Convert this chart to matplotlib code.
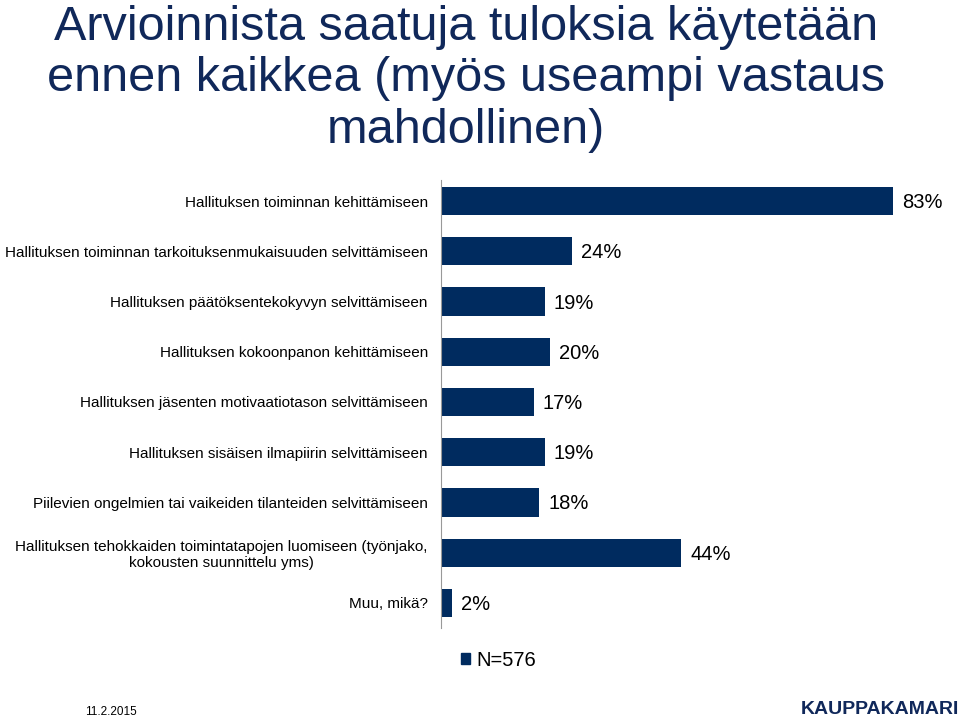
import matplotlib

matplotlib.use("Agg")
import matplotlib.pyplot as plt  # noqa: E402
from matplotlib.patches import Patch  # noqa: E402

plt.rcParams["font.family"] = ["Liberation Sans", "DejaVu Sans"]

categories = [
    "Hallituksen toiminnan kehittämiseen",
    "Hallituksen toiminnan tarkoituksenmukaisuuden selvittämiseen",
    "Hallituksen päätöksentekokyvyn selvittämiseen",
    "Hallituksen kokoonpanon kehittämiseen",
    "Hallituksen jäsenten motivaatiotason selvittämiseen",
    "Hallituksen sisäisen ilmapiirin selvittämiseen",
    "Piilevien ongelmien tai vaikeiden tilanteiden selvittämiseen",
    "Hallituksen tehokkaiden toimintatapojen luomiseen (työnjako,\nkokousten suunnittelu yms)",
    "Muu, mikä?",
]
values = [83, 24, 19, 20, 17, 19, 18, 44, 2]
series_name = "N=576"

NAVY = "#002b5f"
W, H = 960, 718

fig = plt.figure(figsize=(W / 100, H / 100), dpi=100)
fig.patch.set_facecolor("white")

# axes: spine x=441, bar slots y 176..628
ax = fig.add_axes([441 / W, 1 - 628 / H, (950 - 441) / W, (628 - 176) / H])
y = list(range(len(values)))
ax.barh(y, values, height=0.56, color=NAVY, label=series_name)
ax.set_ylim(len(values) - 0.5, -0.5)
ax.set_xlim(0, 509 / 5.45)

for yi, v in zip(y, values):
    ax.text(v + 1.7, yi + 0.03, f"{v}%", va="center", ha="left", fontsize=14.5, color="black")

ax.set_yticks(y)
ax.set_yticklabels(categories, fontsize=11, linespacing=1.15)
for lbl in ax.get_yticklabels():
    lbl.set_multialignment("center")
ax.tick_params(axis="y", length=0, pad=9.5)
ax.set_xticks([])
for side in ["top", "right", "bottom"]:
    ax.spines[side].set_visible(False)
ax.spines["left"].set_color("#999999")
ax.spines["left"].set_linewidth(0.8)
ax.spines["left"].set_bounds(len(values) - 0.5, -0.43)

fig.text(0.485, 1 - 5 / H, "Arvioinnista saatuja tuloksia käytetään\nennen kaikkea (myös useampi vastaus\nmahdollinen)",
         ha="center", va="top", fontsize=35, color="#10285a", linespacing=1.18)

fig.legend(handles=[Patch(color=NAVY, label=series_name)], loc="center left",
           bbox_to_anchor=(443 / W, 1 - 660 / H), frameon=False, fontsize=14.5,
           handlelength=0.45, handleheight=0.5, handletextpad=0.3)

fig.text(85 / W, 1 - 712 / H, "11.2.2015", fontsize=8.5, va="center", ha="left")
fig.text(959 / W, 1 - 709 / H, "KAUPPAKAMARI", fontsize=14, fontweight="bold",
         color="#10285a", va="center", ha="right")

fig.savefig("out.png", dpi=100, facecolor="white")
